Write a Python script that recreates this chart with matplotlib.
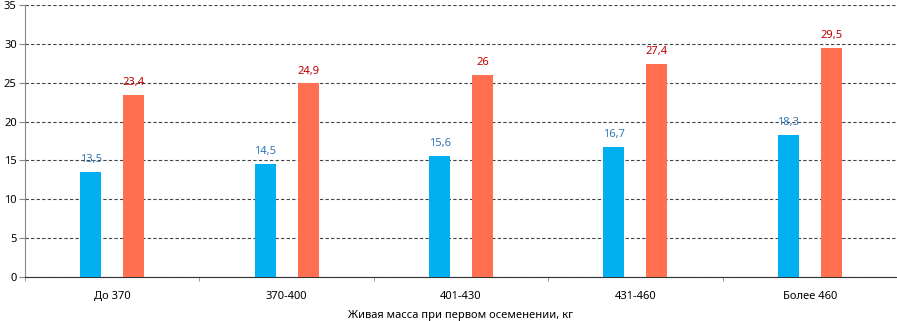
import numpy as np
import matplotlib
matplotlib.use("Agg")
import matplotlib.pyplot as plt

plt.rcParams['font.family'] = ['Noto Sans', 'DejaVu Sans']

# Данные
категории = ["До 370", "370-400", "401-430", "431-460", "Более 460"]
ряд_1 = [13.5, 14.5, 15.6, 16.7, 18.3]
ряд_2 = [23.4, 24.9, 26.0, 27.4, 29.5]
подписи_1 = ["13,5", "14,5", "15,6", "16,7", "18,3"]
подписи_2 = ["23,4", "24,9", "26", "27,4", "29,5"]

fig = plt.figure(figsize=(8.97, 3.21), dpi=100)
ax = fig.add_axes([25 / 897, 1 - 277 / 321, 1 - 25 / 897, 272 / 321])

x = np.arange(len(категории))
w = 0.12
off = 0.123
b1 = ax.bar(x - off, ряд_1, width=w, color="#00B0F0", zorder=3)
b2 = ax.bar(x + off, ряд_2, width=w, color="#FF6F50", zorder=3)

# подписи значений над столбцами
for rect, t in zip(b1, подписи_1):
    ax.annotate(t, (rect.get_x() + rect.get_width() / 2, rect.get_height()),
                xytext=(0, 5), textcoords="offset points", ha="center",
                va="bottom", fontsize=8, color="#2E75B6")
for rect, t in zip(b2, подписи_2):
    ax.annotate(t, (rect.get_x() + rect.get_width() / 2, rect.get_height()),
                xytext=(0, 5), textcoords="offset points", ha="center",
                va="bottom", fontsize=8, color="#C00000")

ax.set_xlim(-0.5, len(категории) - 0.5)
ax.set_ylim(0, 35)
ax.set_yticks(np.arange(0, 36, 5))
ax.yaxis.grid(True, linestyle=(0, (3, 2)), color="#444444", linewidth=0.8, zorder=0)

ax.set_xticks(x)
ax.set_xticklabels(категории, fontsize=8)
ax.set_xticks(np.arange(-0.5, len(категории), 1), minor=True)
ax.tick_params(axis="x", which="major", length=0, pad=10)
ax.tick_params(axis="x", which="minor", length=3, color="#888888")
ax.tick_params(axis="y", length=4, color="#888888", labelsize=8, pad=2)

for s in ["top", "right"]:
    ax.spines[s].set_visible(False)
ax.spines["left"].set_color("#888888")
ax.spines["bottom"].set_color("#333333")

ax.set_xlabel("Живая масса при первом осеменении, кг", fontsize=8, labelpad=6)

fig.savefig("out.png", dpi=100)
